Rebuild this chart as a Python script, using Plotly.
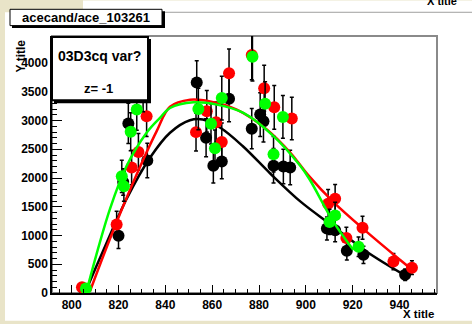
import plotly.graph_objects as go

# ---------------- data ----------------
black_x = [805, 820, 822, 824.2, 832.3, 853.4, 857.4, 860.5, 864.1, 867.2, 876.9, 880.5, 881.9, 886.2, 890.4, 893.3, 909, 912.5, 917.5, 924.6, 942.4]
black_y = [80, 995, 1930, 2950, 2305, 3660, 2700, 2212, 2288, 3380, 2857, 3103, 2988, 2212, 2202, 2184, 1121, 1092, 735, 665, 316]
black_e = [60, 220, 230, 350, 300, 380, 330, 300, 300, 400, 350, 380, 360, 300, 300, 300, 200, 200, 160, 150, 100]

red_x = [804.4, 819.2, 825.6, 828.5, 832, 853.1, 857.7, 861.7, 864.1, 867.2, 876.9, 882.2, 886.5, 894, 909.5, 912.5, 917.3, 924.2, 937.4, 945.3]
red_y = [100, 1190, 2184, 2453, 3074, 2798, 3160, 2971, 2626, 3822, 4138, 3563, 3229, 3034, 1552, 1638, 955, 1133, 546, 440]
red_e = [60, 230, 300, 320, 350, 330, 360, 350, 330, 420, 430, 400, 380, 370, 250, 250, 190, 200, 140, 120]

green_x = [806.1, 821.4, 822.3, 825.2, 827.8, 830.5, 854.1, 859.5, 861.2, 864.1, 877.2, 882.6, 886.2, 890.2, 910.1, 912.5, 922.5]
green_y = [80, 2029, 1857, 2805, 3190, 3534, 3201, 2943, 2517, 3391, 4109, 3293, 2414, 3063, 1236, 1350, 805]
green_e = [60, 280, 260, 330, 360, 380, 360, 350, 320, 380, 420, 380, 310, 370, 220, 230, 170]

# fit curves
black_fx = [806, 812, 823.5, 833.5, 842, 850.5, 856, 863.5, 873, 885, 898, 911, 926, 942]
black_fy = [30, 600, 1640, 2356, 2788, 3005, 3017, 2874, 2557, 2070, 1580, 1180, 719, 316]

red_fx = [807.8, 816.4, 826.3, 836.3, 842, 850.6, 859.1, 870.5, 883.3, 893.3, 901, 911.8, 926, 940.3, 944.6]
red_fy = [29, 948, 1926, 2816, 3240, 3362, 3333, 3190, 2845, 2443, 2050, 1580, 1063, 574, 431]

green_fx = [806.7, 816.4, 823.5, 832, 837.7, 842, 852, 862, 873.3, 886.2, 897.6, 901.5, 911.8, 920.3]
green_fy = [86, 1466, 2212, 2788, 3046, 3218, 3316, 3276, 3132, 2729, 2212, 1983, 1236, 747]

x_range = [791.6, 956]
y_range = [0, 4470]

# ---------------- layout geometry ----------------
W, H = 472, 324
L, R, T, B = 52, 437, 36, 296


def px(x):
    return (x - L) / (R - L)


def py(y):
    return (B - y) / (B - T)


FONT = "Liberation Sans"
BEIGE = "#e9e4c8"

fig = go.Figure()

series = [
    (black_x, black_y, black_e, black_fx, black_fy, "#000000"),
    (red_x, red_y, red_e, red_fx, red_fy, "#ff0000"),
    (green_x, green_y, green_e, green_fx, green_fy, "#00ff00"),
]
for xs, ys, es, fx, fy, col in series:
    fig.add_trace(go.Scatter(
        x=xs, y=ys, mode="markers",
        marker=dict(size=12, color=col, line=dict(width=0)),
        error_y=dict(type="data", array=es, color="black", thickness=1.5, width=2),
        showlegend=False, cliponaxis=False,
    ))
    fig.add_trace(go.Scatter(
        x=fx, y=fy, mode="lines", line=dict(color=col, width=2.5, shape="spline"),
        showlegend=False,
    ))

shapes = []
# white canvas
shapes.append(dict(type="rect", xref="paper", yref="paper", x0=px(5), x1=px(W), y0=py(H), y1=py(12),
                   fillcolor="white", line=dict(width=0), layer="below"))
# top strip of another canvas
shapes.append(dict(type="rect", xref="paper", yref="paper", x0=px(83), x1=px(W), y0=py(12), y1=py(0),
                   fillcolor="white", line=dict(width=0), layer="below"))
shapes.append(dict(type="line", xref="paper", yref="paper", x0=px(83), x1=px(W), y0=py(12), y1=py(12),
                   line=dict(color="#a0a0a0", width=1), layer="below"))
# grey frame
shapes.append(dict(type="rect", xref="paper", yref="paper", x0=0, x1=1, y0=0, y1=1,
                   line=dict(color="#8a8a8a", width=2), layer="below"))
# title box with shadow
shapes.append(dict(type="rect", xref="paper", yref="paper", x0=px(12), x1=px(165), y0=py(28), y1=py(11),
                   fillcolor="black", line=dict(width=0), layer="above"))
shapes.append(dict(type="rect", xref="paper", yref="paper", x0=px(10), x1=px(162), y0=py(25.5), y1=py(9),
                   fillcolor="white", line=dict(color="black", width=1), layer="above"))
# text box with shadow
shapes.append(dict(type="rect", xref="paper", yref="paper", x0=px(54), x1=px(151), y0=py(104), y1=py(39),
                   fillcolor="black", line=dict(width=0), layer="above"))
shapes.append(dict(type="rect", xref="paper", yref="paper", x0=px(52), x1=px(148), y0=py(101), y1=py(37),
                   fillcolor="white", line=dict(color="black", width=2), layer="above"))

bold = dict(family=FONT, size=13, color="black", weight="bold")
annotations = [
    dict(text="acecand/ace_103261", x=px(86), y=py(17.5), xref="paper", yref="paper", showarrow=False,
         font=bold, xanchor="center", yanchor="middle"),
    dict(text="03D3cq var?", x=px(99), y=py(56), xref="paper", yref="paper", showarrow=False,
         font=dict(family=FONT, size=14, color="black", weight="bold"), xanchor="center", yanchor="middle"),
    dict(text="z= -1", x=px(98), y=py(89), xref="paper", yref="paper", showarrow=False,
         font=bold, xanchor="center", yanchor="middle"),
    dict(text="Y title", x=px(21), y=py(38), xref="paper", yref="paper", showarrow=False, textangle=-90,
         font=dict(family=FONT, size=12, color="black", weight="bold"), xanchor="center", yanchor="top"),
    dict(text="X title", x=px(436), y=py(317.5), xref="paper", yref="paper", showarrow=False,
         font=dict(family=FONT, size=11.5, color="black", weight="bold"), xanchor="right", yanchor="middle"),
    dict(text="X title", x=px(459), y=py(1), xref="paper", yref="paper", showarrow=False,
         font=dict(family=FONT, size=11, color="black", weight="bold"), xanchor="right", yanchor="middle"),
]

tickfont = dict(family=FONT, size=12, color="black", weight="bold")
fig.update_layout(
    width=W, height=H,
    margin=dict(l=L, r=W - R, t=T, b=H - B, pad=0),
    paper_bgcolor=BEIGE, plot_bgcolor="rgba(0,0,0,0)",
    shapes=shapes, annotations=annotations,
    xaxis=dict(range=x_range, tick0=800, dtick=20, ticks="inside", ticklen=8, tickwidth=1, tickcolor="black",
               minor=dict(ticks="inside", dtick=5, ticklen=4, tickcolor="black", tickwidth=1),
               showgrid=False, zeroline=False, showline=True, linecolor="black", linewidth=1.5,
               tickfont=tickfont),
    yaxis=dict(range=y_range, tick0=0, dtick=500, ticks="inside", ticklen=10, tickwidth=1, tickcolor="black",
               minor=dict(ticks="inside", dtick=100, ticklen=5, tickcolor="black", tickwidth=1),
               showgrid=False, zeroline=False, showline=True, linecolor="black", linewidth=1.5,
               tickfont=tickfont),
)

fig.write_html("out.html", config={"displayModeBar": False},
               post_script="document.body.style.margin='0px';document.body.style.overflow='hidden';")
